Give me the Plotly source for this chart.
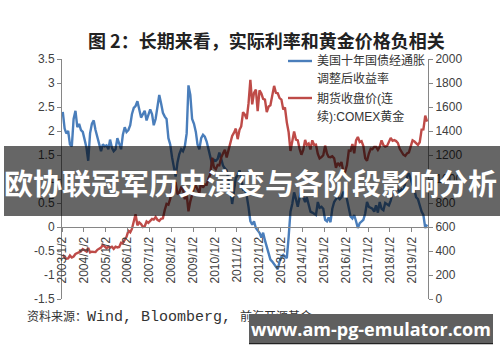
import plotly.graph_objects as go

# ---- data (monthly) ----
years = list(range(2003, 2020))
months = [f"{y}-{m:02d}-15" for y in years for m in range(1, 13)][:201]

tips_yield = [
    2.40, 2.05, 1.95, 2.00, 1.72, 1.68, 2.25, 2.42, 2.08, 2.15, 2.02, 1.98,
    1.82, 1.65, 1.38, 1.95, 2.15, 2.22, 2.02, 1.85, 1.72, 1.58, 1.72, 1.68,
    1.70, 1.62, 1.82, 1.65, 1.58, 1.62, 1.85, 1.72, 1.62, 1.92, 2.08, 1.98,
    2.02, 2.12, 2.35, 2.48, 2.52, 2.62, 2.45, 2.28, 2.35, 2.42, 2.22, 2.35,
    2.45, 2.35, 2.12, 2.25, 2.48, 2.75, 2.58, 2.38, 2.30, 2.25, 1.85, 1.72,
    1.45, 1.22, 1.05, 1.35, 1.52, 1.62, 1.58, 1.68, 1.95, 2.95, 2.75, 2.25,
    2.15, 1.98, 1.72, 1.62, 1.85, 1.92, 1.88, 1.78, 1.62, 1.48, 1.30, 1.40,
    1.38, 1.42, 1.55, 1.42, 1.28, 1.22, 1.18, 0.98, 0.78, 0.48, 0.82, 1.02,
    1.08, 1.18, 1.02, 0.78, 0.78, 0.65, 0.42, 0.12, 0.05, 0.12, -0.02, -0.08,
    -0.12, -0.22, -0.12, -0.28, -0.42, -0.55, -0.68, -0.72, -0.78, -0.82, -0.88, -0.72,
    -0.62, -0.58, -0.62, -0.65, -0.22, 0.32, 0.48, 0.72, 0.58, 0.42, 0.62, 0.75,
    0.62, 0.52, 0.62, 0.48, 0.32, 0.30, 0.28, 0.25, 0.52, 0.40, 0.42, 0.38,
    0.15, 0.12, 0.20, 0.10, 0.38, 0.52, 0.58, 0.62, 0.58, 0.62, 0.72, 0.72,
    0.58, 0.38, 0.22, 0.18, 0.25, 0.12, -0.02, 0.08, 0.12, 0.15, 0.28, 0.52,
    0.42, 0.40, 0.38, 0.32, 0.45, 0.30, 0.52, 0.38, 0.35, 0.50, 0.48, 0.45,
    0.55, 0.72, 0.75, 0.82, 0.78, 0.72, 0.78, 0.75, 0.92, 1.05, 1.12, 0.98,
    0.88, 0.78, 0.62, 0.58, 0.45, 0.32, 0.25, -0.02, 0.05,
]

gold_price = [
    368, 350, 335, 338, 362, 346, 354, 375, 384, 386, 398, 416,
    402, 396, 426, 388, 394, 392, 391, 410, 416, 428, 452, 438,
    424, 436, 428, 436, 418, 436, 430, 434, 470, 466, 496, 518,
    568, 556, 584, 654, 706, 614, 638, 624, 600, 606, 646, 634,
    652, 668, 662, 682, 660, 650, 668, 672, 742, 792, 786, 834,
    924, 972, 968, 872, 888, 928, 916, 832, 870, 730, 814, 884,
    928, 942, 918, 884, 978, 928, 954, 952, 1004, 1040, 1178, 1096,
    1082, 1118, 1114, 1180, 1212, 1244, 1180, 1248, 1306, 1358, 1386, 1420,
    1332, 1410, 1438, 1556, 1536, 1500, 1628, 1826, 1622, 1718, 1746, 1566,
    1738, 1712, 1668, 1662, 1558, 1604, 1614, 1690, 1776, 1718, 1714, 1674,
    1662, 1578, 1596, 1472, 1392, 1234, 1322, 1396, 1328, 1322, 1250, 1202,
    1242, 1326, 1284, 1296, 1246, 1322, 1284, 1286, 1210, 1172, 1182, 1198,
    1278, 1212, 1184, 1182, 1190, 1172, 1094, 1134, 1114, 1142, 1064, 1060,
    1116, 1236, 1234, 1292, 1214, 1322, 1350, 1308, 1316, 1274, 1172, 1152,
    1212, 1252, 1248, 1268, 1268, 1242, 1268, 1322, 1282, 1270, 1276, 1306,
    1342, 1318, 1324, 1316, 1300, 1252, 1224, 1202, 1192, 1214, 1222, 1282,
    1322, 1312, 1298, 1284, 1306, 1412, 1414, 1528, 1478,
]

x_tick_vals = [f"{y}-01-02" for y in years]
x_tick_text = [f"{y}/1/2" for y in years]
left_ticks = [-1.5, -1, -0.5, 0, 0.5, 1, 1.5, 2, 2.5, 3, 3.5]
left_tick_text = ["-1.5", "-1", "-0.5", "0", "0.5", "1", "1.5", "2", "2.5", "3", "3.5"]
right_ticks = list(range(0, 2001, 200))

series_names = ["美国十年国债经通胀调整后收益率", "期货收盘价(连续):COMEX黄金"]
legend_lines = [["美国十年国债经通胀", "调整后收益率"], ["期货收盘价(连", "续):COMEX黄金"]]
title_text = "图 2：长期来看，实际利率和黄金价格负相关"
source_parts = ["资料来源：", "Wind, Bloomberg, ", "前海开源基金"]
banner_text = "欧协联冠军历史演变与各阶段影响分析"
url_text = "www.am-pg-emulator.com"

# ---- figure ----
FONT = "Liberation Sans, Noto Sans CJK SC, sans-serif"
CJK = "Noto Sans CJK SC, sans-serif"
AX = "#868686"
TXT = "#404040"
COLORS = ["#4A7EBB", "#BE4B48"]

fig = go.Figure()
fig.add_trace(go.Scatter(x=months, y=tips_yield, name=series_names[0], mode="lines",
                         line=dict(color=COLORS[0], width=2.4), yaxis="y", showlegend=False))
fig.add_trace(go.Scatter(x=months, y=gold_price, name=series_names[1], mode="lines",
                         line=dict(color=COLORS[1], width=2.4), yaxis="y2", showlegend=False))

fig.update_layout(
    width=500, height=362,
    margin=dict(l=62, r=72, t=59, b=63, autoexpand=False),
    paper_bgcolor="white", plot_bgcolor="white",
    font=dict(family=FONT, size=12, color=TXT),
    showlegend=False,
    xaxis=dict(type="date", range=["2003-01-02", "2019-09-30"],
               anchor="free", position=0.3, automargin=False,
               tickvals=x_tick_vals, ticktext=x_tick_text, tickangle=-90,
               showline=True, linecolor=AX, linewidth=1,
               ticks="outside", ticklen=4, tickcolor=AX,
               showgrid=False, zeroline=False,
               tickfont=dict(size=12, color=TXT)),
    yaxis=dict(range=[-1.5, 3.5], tickvals=left_ticks, ticktext=left_tick_text,
               automargin=False,
               showline=True, linecolor=AX, ticks="outside", ticklen=4, tickcolor=AX,
               showgrid=False, zeroline=False, tickfont=dict(size=12, color=TXT)),
    yaxis2=dict(range=[0, 2000], tickvals=right_ticks, overlaying="y", side="right",
                automargin=False,
                showline=True, linecolor=AX, ticks="outside", ticklen=4, tickcolor=AX,
                showgrid=False, zeroline=False, tickfont=dict(size=12, color=TXT)),
)

def px_x(p):
    return (p - 62) / 366.0

def px_y(p):
    return (299 - p) / 240.0

# legend (manual, placed as in the reference)
legend_rows = [(61, 78), (98, 116)]
for i in range(2):
    ya, yb = legend_rows[i]
    fig.add_shape(type="line", xref="paper", yref="paper",
                  x0=px_x(288), x1=px_x(312), y0=px_y(ya), y1=px_y(ya),
                  line=dict(color=COLORS[i], width=2.4))
    for txt, yy in zip(legend_lines[i], (ya, yb)):
        fig.add_annotation(text=txt, x=px_x(315), y=px_y(yy), xref="paper", yref="paper",
                           xanchor="left", yanchor="middle", showarrow=False,
                           font=dict(size=12, color="#333333", family=FONT))

# title
fig.add_annotation(text=f"<b>{title_text}</b>", x=px_x(266), y=px_y(25), xref="paper", yref="paper",
                   showarrow=False, font=dict(size=18, color="#222222", family=CJK))
# source
src_html = (f'<span style="font-size:12px">{source_parts[0]}</span>'
            f'<span style="font-family:Liberation Mono, monospace;font-size:15px">{source_parts[1]}</span>'
            f'<span style="font-size:12px">{source_parts[2]}</span>')
fig.add_annotation(text=src_html, x=px_x(25), y=px_y(328), xref="paper", yref="paper",
                   xanchor="left", showarrow=False,
                   font=dict(size=12, color="#333333",
                             family="Noto Sans CJK SC, sans-serif"))

# banner overlay
fig.add_shape(type="rect", xref="paper", yref="paper", layer="above",
              x0=px_x(4), x1=px_x(500), y0=px_y(216), y1=px_y(146),
              fillcolor="rgba(0,0,0,0.6)", line=dict(width=0))
fig.add_annotation(text=f"<b>{banner_text}</b>", x=px_x(250), y=px_y(182), xref="paper", yref="paper",
                   showarrow=False, font=dict(size=29, color="white", family=CJK))

# url box (annotation with its own background, drawn after the source line so it covers it)
fig.add_shape(type="line", xref="paper", yref="paper", layer="above",
              x0=px_x(249), x1=px_x(493), y0=px_y(343.5), y1=px_y(343.5),
              line=dict(color="#222222", width=1.5))
fig.add_annotation(text=f"<b>{url_text}</b>", x=px_x(371), y=px_y(328.5), xref="paper", yref="paper",
                   xanchor="center", yanchor="middle", showarrow=False,
                   width=244, height=29, borderpad=0, borderwidth=0,
                   bgcolor="#5f5f5f", align="center",
                   font=dict(size=18, color="white", family="Open Sans, sans-serif"))

fig.write_html("out.html", config={"displayModeBar": False},
               post_script="document.body.style.margin='0';document.body.style.overflow='hidden';")
